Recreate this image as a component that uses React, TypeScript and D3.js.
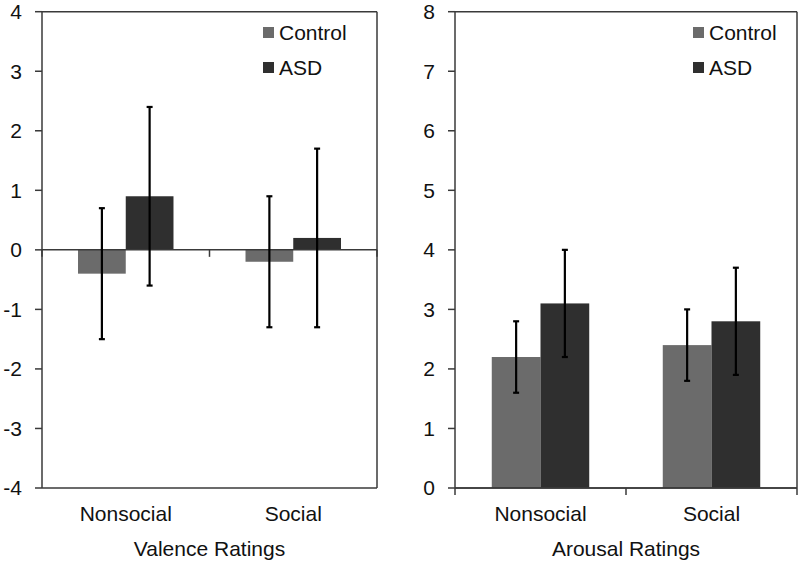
import React from "react";
import * as d3 from "d3";

const categories = ["Nonsocial", "Social"];
const groups = ["Control", "ASD"];
const groupColors = ["#6b6b6b", "#2f2f2f"];

// Valence panel
const valenceMeans = [
  [-0.4, 0.9],
  [-0.2, 0.2],
];
const valenceLow = [
  [-1.5, -0.6],
  [-1.3, -1.3],
];
const valenceHigh = [
  [0.7, 2.4],
  [0.9, 1.7],
];
const valenceTicks = [-4, -3, -2, -1, 0, 1, 2, 3, 4];

// Arousal panel
const arousalMeans = [
  [2.2, 3.1],
  [2.4, 2.8],
];
const arousalLow = [
  [1.6, 2.2],
  [1.8, 1.9],
];
const arousalHigh = [
  [2.8, 4.0],
  [3.0, 3.7],
];
const arousalTicks = [0, 1, 2, 3, 4, 5, 6, 7, 8];

const FONT = "'Liberation Sans', Arial, sans-serif";
const AXIS = "#3a3a3a";
const FS = 21;

type PanelProps = {
  left: number;
  right: number;
  top: number;
  bottom: number;
  domain: [number, number];
  ticks: number[];
  means: number[][];
  low: number[][];
  high: number[][];
  title: string;
  legendX: number;
};

function Panel(p: PanelProps) {
  const y = d3.scaleLinear().domain(p.domain).range([p.bottom, p.top]);
  const x = d3
    .scaleBand<string>()
    .domain(categories)
    .range([p.left, p.right])
    .paddingInner(0.43)
    .paddingOuter(0.215);
  const xs = d3.scaleBand<string>().domain(groups).range([0, x.bandwidth()]);
  const base = y(Math.max(p.domain[0], 0));
  const zeroY = y(Math.max(p.domain[0], 0));
  const mid = (p.left + p.right) / 2;
  const capW = 3;
  return (
    <g>
      {/* bars */}
      {categories.map((c, ci) =>
        groups.map((g, gi) => {
          const v = p.means[ci][gi];
          const x0 = (x(c) as number) + (xs(g) as number);
          return (
            <rect
              key={c + g}
              x={x0}
              y={Math.min(y(v), base)}
              width={xs.bandwidth()}
              height={Math.abs(y(v) - base)}
              fill={groupColors[gi]}
            />
          );
        })
      )}
      {/* frame */}
      <line x1={p.left} x2={p.right} y1={p.top} y2={p.top} stroke={AXIS} strokeWidth={1.5} />
      <line x1={p.right} x2={p.right} y1={p.top} y2={p.bottom} stroke={AXIS} strokeWidth={1.5} />
      <line x1={p.left} x2={p.right} y1={p.bottom} y2={p.bottom} stroke={AXIS} strokeWidth={1.5} />
      <line x1={p.left} x2={p.left} y1={p.top} y2={p.bottom} stroke={AXIS} strokeWidth={1.5} />
      {/* category axis */}
      <line x1={p.left} x2={p.right} y1={zeroY} y2={zeroY} stroke={AXIS} strokeWidth={1.5} />
      {[p.left, mid, p.right].map((t, i) => (
        <line key={i} x1={t} x2={t} y1={zeroY} y2={zeroY + 7} stroke={AXIS} strokeWidth={1.5} />
      ))}
      {/* y ticks */}
      {p.ticks.map((t) => (
        <g key={t}>
          <line x1={p.left - 7} x2={p.left} y1={y(t)} y2={y(t)} stroke={AXIS} strokeWidth={1.5} />
          <text
            x={p.left - 20}
            y={y(t)}
            dy="0.35em"
            textAnchor="end"
            fontSize={FS}
            fontFamily={FONT}
            fill="#111"
          >
            {t}
          </text>
        </g>
      ))}
      {/* error bars */}
      {categories.map((c, ci) =>
        groups.map((g, gi) => {
          const cx = (x(c) as number) + (xs(g) as number) + xs.bandwidth() / 2;
          const yl = y(p.low[ci][gi]);
          const yh = y(p.high[ci][gi]);
          return (
            <g key={"e" + c + g} stroke="#000" strokeWidth={2.2}>
              <line x1={cx} x2={cx} y1={yh} y2={yl} />
              <line x1={cx - capW} x2={cx + capW} y1={yh} y2={yh} />
              <line x1={cx - capW} x2={cx + capW} y1={yl} y2={yl} />
            </g>
          );
        })
      )}
      {/* category labels */}
      {categories.map((c) => (
        <text
          key={c}
          x={(x(c) as number) + x.bandwidth() / 2}
          y={p.bottom + 33}
          textAnchor="middle"
          fontSize={FS}
          fontFamily={FONT}
          fill="#111"
        >
          {c}
        </text>
      ))}
      <text
        x={mid}
        y={p.bottom + 68}
        textAnchor="middle"
        fontSize={FS}
        fontFamily={FONT}
        fill="#111"
      >
        {p.title}
      </text>
      {/* legend */}
      {groups.map((g, gi) => (
        <g key={"l" + g}>
          <rect x={p.legendX} y={27 + gi * 35} width={11} height={11} fill={groupColors[gi]} />
          <text
            x={p.legendX + 16}
            y={32.5 + gi * 35}
            dy="0.35em"
            fontSize={FS}
            fontFamily={FONT}
            fill="#111"
          >
            {g}
          </text>
        </g>
      ))}
    </g>
  );
}

export default function App() {
  return (
    <svg
      width={800}
      height={564}
      style={{ position: "absolute", left: 0, top: 0, background: "#fff" }}
    >
      <rect width={800} height={564} fill="#fff" />
      <Panel
        left={42}
        right={377}
        top={11.7}
        bottom={488}
        domain={[-4, 4]}
        ticks={valenceTicks}
        means={valenceMeans}
        low={valenceLow}
        high={valenceHigh}
        title="Valence Ratings"
        legendX={263}
      />
      <Panel
        left={455}
        right={797}
        top={11.7}
        bottom={488}
        domain={[0, 8]}
        ticks={arousalTicks}
        means={arousalMeans}
        low={arousalLow}
        high={arousalHigh}
        title="Arousal Ratings"
        legendX={693}
      />
    </svg>
  );
}
